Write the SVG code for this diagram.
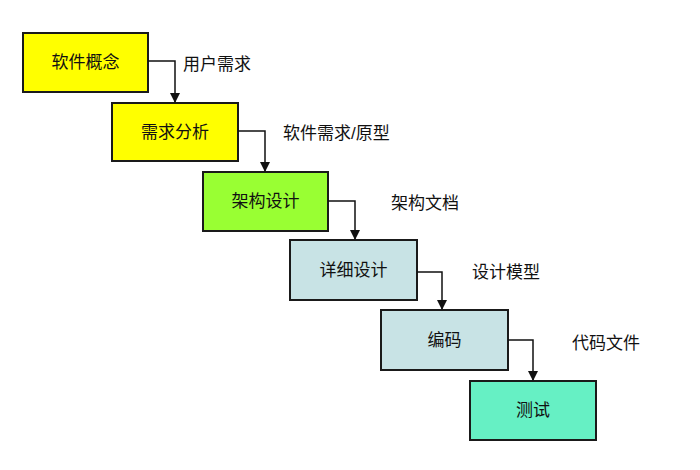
<svg xmlns="http://www.w3.org/2000/svg" width="700" height="470" viewBox="0 0 700 470">
<defs>
<style>
.b{stroke:#1a1a1a;stroke-width:2}
.t{font-family:"Liberation Sans","Noto Sans CJK SC",sans-serif;font-size:17px;fill:#111}
.c{text-anchor:middle}
.l{fill:none;stroke:#111;stroke-width:1.5}
</style>
<marker id="a" viewBox="0 0 10 10" refX="9" refY="5" markerWidth="7" markerHeight="7" orient="auto"><path d="M0,0L10,5L0,10z" fill="#111"/></marker>
</defs>
<rect width="700" height="470" fill="#fff"/>
<g id="n1"><rect class="b" x="23" y="33" width="125" height="59" fill="#FFFF00"/><text class="t c" x="85.5" y="68">软件概念</text></g>
<g id="n2"><rect class="b" x="112" y="103" width="126" height="58" fill="#FFFF00"/><text class="t c" x="175" y="138">需求分析</text></g>
<g id="n3"><rect class="b" x="203" y="172" width="125" height="59" fill="#99FF33"/><text class="t c" x="265.5" y="207">架构设计</text></g>
<g id="n4"><rect class="b" x="290" y="240" width="127" height="60" fill="#C8E3E5"/><text class="t c" x="353.5" y="276">详细设计</text></g>
<g id="n5"><rect class="b" x="381" y="310" width="127" height="60" fill="#C8E3E5"/><text class="t c" x="444.5" y="346">编码</text></g>
<g id="n6"><rect class="b" x="470" y="381" width="126" height="59" fill="#66F0C4"/><text class="t c" x="533" y="416">测试</text></g>
<g id="connectors">
<path class="l" d="M148,61H175V102" marker-end="url(#a)"/>
<path class="l" d="M238,131H265V171" marker-end="url(#a)"/>
<path class="l" d="M328,201H355V239" marker-end="url(#a)"/>
<path class="l" d="M417,272H442V309" marker-end="url(#a)"/>
<path class="l" d="M508,340H533V380" marker-end="url(#a)"/>
</g>
<g id="labels">
<text class="t" x="183" y="70">用户需求</text>
<text class="t" x="283" y="139">软件需求/原型</text>
<text class="t" x="391" y="209">架构文档</text>
<text class="t" x="472" y="278">设计模型</text>
<text class="t" x="572" y="349">代码文件</text>
</g>
</svg>
